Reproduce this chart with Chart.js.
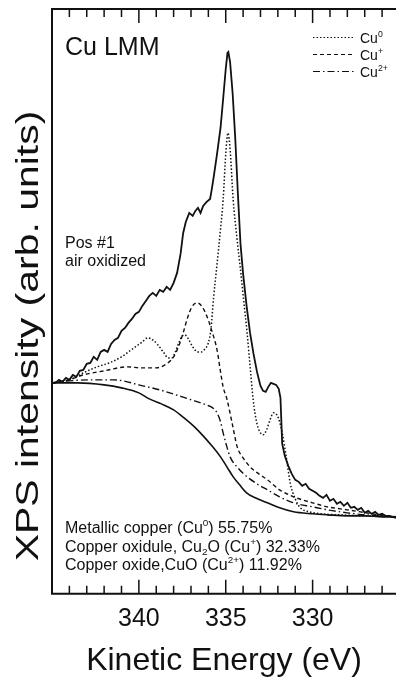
<!DOCTYPE html>
<html>
<head>
<meta charset="utf-8">
<script src="https://cdn.jsdelivr.net/npm/chart.js@4/dist/chart.umd.min.js"></script>
<style>
	html, body { margin: 0; padding: 0; background: #fff; overflow: hidden; }
	#wrap { position: relative; width: 396px; height: 680px; }
</style>
</head>
<body>
<div id="wrap"><canvas id="myChart"></canvas></div>
<script>
// 측정 스펙트럼 (운동에너지 eV, 강도 arb.)
const totalE = [345.0, 344.8, 344.6, 344.4, 344.2, 344.0, 343.8, 343.6, 343.4, 343.2, 343.0, 342.8, 342.6, 342.4, 342.2, 342.0, 341.8, 341.6, 341.4, 341.2, 341.0, 340.8, 340.6, 340.4, 340.2, 340.0, 339.8, 339.6, 339.4, 339.2, 339.0, 338.8, 338.6, 338.4, 338.2, 338.0, 337.8, 337.6,
	337.45, 337.3, 337.1, 336.9, 336.75, 336.6, 336.45, 336.3, 336.1, 335.9, 335.8, 335.7, 335.5, 335.3, 335.15, 335.0, 334.9, 334.85, 334.75, 334.6, 334.45, 334.3, 334.15, 334.0,
	333.8, 333.6, 333.4, 333.2, 333.0, 332.85, 332.7, 332.55, 332.4, 332.25, 332.1, 331.95, 331.85, 331.75, 331.6, 331.4, 331.2, 331.0,
	330.8, 330.6, 330.4, 330.2, 330.0, 329.8, 329.6, 329.4, 329.2, 329.0, 328.8, 328.6, 328.4, 328.2, 328.0, 327.8, 327.6, 327.4, 327.2, 327.0, 326.8, 326.6, 326.4, 326.2, 326.0, 325.8, 325.6, 325.4, 325.2];
const totalI = [211, 211, 214, 212, 216, 214, 219, 217, 223, 224, 230, 231, 237, 234, 242, 244, 242, 250, 254, 256, 263, 266, 271, 275, 280, 282, 288, 293, 298, 301, 298, 304, 302, 307, 304, 311, 321, 340,
	361, 372, 381, 378, 383, 386, 381, 388, 392, 395, 405, 416, 440, 466, 495, 525, 541, 542, 532, 500, 455, 400, 350, 320,
	288, 261, 240, 222, 208, 203, 202, 207, 211, 210, 209, 205, 196, 150, 138, 128, 120, 114,
	112, 108, 110, 105, 103, 101, 98, 96, 99, 93, 95, 90, 92, 88, 91, 86, 87, 84, 86, 81, 83, 80, 82, 79, 80, 78, 78, 77, 76];

// Cu0 성분
const cu0E = [345.0, 344.0, 343.2, 342.4, 341.7, 341.0, 340.6, 340.2, 339.8, 339.5, 339.2, 338.9, 338.6, 338.3, 338.1, 337.9, 337.7, 337.5, 337.35, 337.15, 336.9, 336.6, 336.4, 336.2, 336.0, 335.85, 335.7, 335.5, 335.3, 335.15,
	335.0, 334.87, 334.75, 334.57, 334.35, 334.17, 333.97, 333.77, 333.6, 333.42, 333.2, 333.0, 332.85, 332.65, 332.45, 332.25, 332.1, 331.95, 331.75, 331.5, 331.29, 331.0, 330.7, 330.2, 329.5, 328.5, 327.0, 325.2];
const cu0I = [211, 214, 221, 227, 231, 237, 242, 247, 252, 256, 254, 249, 242, 236, 236, 242, 251, 258, 259, 255, 247, 242, 242, 245, 251, 265, 296, 330, 365, 394,
	440, 461, 445, 394, 355, 327, 294, 261, 228, 194, 170, 161, 159, 164, 174, 181, 180, 175, 161, 135, 111, 95, 86, 82, 80, 79, 78, 77];

// Cu+ 성분
const cu1E = [345.0, 344.0, 343.2, 342.0, 340.7, 339.8, 339.0, 338.5, 338.0, 337.7, 337.45, 337.2, 336.95, 336.65, 336.35, 336.07, 335.8, 335.5, 335.3, 335.15,
	334.92, 334.6, 334.34, 334.0, 333.6, 333.1, 332.6, 331.9, 331.1, 330.0, 329.15, 328.0, 327.25, 326.2, 325.2];
const cu1I = [211, 214, 219, 223, 227, 226, 226, 229, 237, 248, 261, 276, 287, 291, 287, 277, 263, 244, 222, 207,
	194, 168, 147, 136, 127, 120, 114, 104, 97, 91, 87, 84, 82, 79, 77];

// Cu2+ 성분
const cu2E = [345.0, 344.0, 342.65, 341.5, 340.9, 340.0, 338.8, 337.5, 336.8, 336.13, 335.75, 335.5, 335.3, 335.15, 334.95, 334.75, 334.3, 333.77, 333.2, 332.6, 331.9, 331.1, 330.0, 329.15, 328.0, 327.0, 326.0, 325.2];
const cu2I = [211, 213, 214, 214, 213, 209, 204, 197, 193, 189, 186, 181, 172, 161, 148, 137, 126, 117, 110, 104, 97, 91, 87, 84, 81, 79, 78, 77];

// 배경 (Shirley)
const bgE = [345.0, 343.5, 342.0, 341.0, 340.0, 339.4, 338.7, 338.0, 337.4, 336.8, 336.3, 335.8, 335.3, 334.9, 334.57, 334.2, 333.8, 333.3, 332.6, 331.9, 331.1, 330.0, 329.15, 328.0, 327.0, 326.0, 325.2];
const bgI = [211, 211, 209, 206, 201, 195, 190, 184, 176, 167, 158, 148, 137, 126, 117, 109, 101, 96, 91, 86, 82, 80, 79, 78, 78, 77, 77];

const tickLabels = [340, 335, 330];
const legendNames = ['0', '+', '2+'];

const FONT = '"Liberation Sans", Arial, Helvetica, sans-serif';

function toPts(e, v) {
	return e.map((x, i) => ({ x: x, y: v[i] }));
}

// 위/아래 첨자 섞인 텍스트
function richText(ctx, parts, x, y, size) {
	for (const [t, k] of parts) {
		const s = k ? size * 0.62 : size;
		ctx.font = `${s}px ${FONT}`;
		const dy = k === 1 ? -size * 0.42 : (k === -1 ? size * 0.2 : 0);
		ctx.fillText(t, x, y + dy);
		x += ctx.measureText(t).width;
	}
}

// 테두리 + 안쪽 눈금
const framePlugin = {
	id: 'frame',
	afterDatasetsDraw(chart) {
		const { ctx, chartArea: a, scales: { x } } = chart;
		ctx.save();
		ctx.strokeStyle = '#111';
		ctx.lineWidth = 2;
		ctx.beginPath();
		ctx.moveTo(a.right + 4, a.top);
		ctx.lineTo(a.left, a.top);
		ctx.lineTo(a.left, a.bottom);
		ctx.lineTo(a.right + 4, a.bottom);
		ctx.stroke();
		ctx.lineWidth = 1.5;
		ctx.beginPath();
		for (let v = Math.ceil(x.min); v < x.max; v++) {
			const px = x.getPixelForValue(v);
			const len = v % 5 === 0 ? 14 : 8;
			ctx.moveTo(px, a.top);
			ctx.lineTo(px, a.top + len);
			ctx.moveTo(px, a.bottom);
			ctx.lineTo(px, a.bottom - len);
		}
		ctx.stroke();
		ctx.restore();
	}
};

// 주석, 범례, y축 제목
const notesPlugin = {
	id: 'notes',
	afterDraw(chart) {
		const ctx = chart.ctx;
		ctx.save();
		ctx.fillStyle = '#111';
		ctx.textBaseline = 'alphabetic';
		ctx.textAlign = 'left';

		ctx.font = `25px ${FONT}`;
		ctx.fillText('Cu LMM', 65, 55);

		ctx.font = `16px ${FONT}`;
		ctx.fillText('Pos #1', 65, 248);
		ctx.fillText('air oxidized', 65, 265.5);

		richText(ctx, [['Metallic copper (Cu', 0], ['0', 1], [') 55.75%', 0]], 65, 533, 16);
		richText(ctx, [['Copper oxidule, Cu', 0], ['2', -1], ['O (Cu', 0], ['+', 1], [') 32.33%', 0]], 65, 551.5, 16);
		richText(ctx, [['Copper oxide,CuO (Cu', 0], ['2+', 1], [') 11.92%', 0]], 65, 570, 16);

		// 범례
		const ds = chart.data.datasets;
		for (let i = 0; i < 3; i++) {
			const y = 37.5 + i * 17;
			ctx.save();
			ctx.strokeStyle = '#111';
			ctx.lineWidth = 1.2;
			ctx.setLineDash(ds[i + 1].borderDash);
			ctx.beginPath();
			ctx.moveTo(313, y);
			ctx.lineTo(355, y);
			ctx.stroke();
			ctx.restore();
			richText(ctx, [['Cu', 0], [legendNames[i], 1]], 360, y + 5.5, 14);
		}

		// y축 제목
		ctx.translate(29, 336);
		ctx.rotate(-Math.PI / 2);
		ctx.scale(1.28, 1);
		ctx.font = `32px ${FONT}`;
		ctx.textAlign = 'center';
		ctx.textBaseline = 'middle';
		ctx.fillText('XPS intensity (arb. units)', 0, 0);
		ctx.restore();
	}
};

window.addEventListener("load", function() {
	Chart.defaults.font.family = FONT;
	Chart.defaults.color = '#111';

	let data = {
		datasets: [
			{
				label: 'total',
				data: toPts(totalE, totalI),
				borderColor: '#111',
				borderWidth: 1.8,
				tension: 0
			},
			{
				label: 'Cu0',
				data: toPts(cu0E, cu0I),
				borderColor: '#111',
				borderWidth: 1.5,
				borderDash: [1.5, 2],
				cubicInterpolationMode: 'monotone'
			},
			{
				label: 'Cu+',
				data: toPts(cu1E, cu1I),
				borderColor: '#111',
				borderWidth: 1.4,
				borderDash: [4, 3],
				cubicInterpolationMode: 'monotone'
			},
			{
				label: 'Cu2+',
				data: toPts(cu2E, cu2I),
				borderColor: '#111',
				borderWidth: 1.4,
				borderDash: [7, 3, 1.5, 3],
				cubicInterpolationMode: 'monotone'
			},
			{
				label: 'background',
				data: toPts(bgE, bgI),
				borderColor: '#111',
				borderWidth: 1.6,
				cubicInterpolationMode: 'monotone'
			}
		]
	};

	let options = {
		responsive: true,
		maintainAspectRatio: false,
		animation: false,
		layout: { padding: { left: 52, top: 9, right: 0, bottom: 0 } },
		elements: { point: { radius: 0 } },
		plugins: { legend: { display: false }, tooltip: { enabled: false } },
		scales: {
			x: {
				type: 'linear',
				reverse: true,
				min: 325.2,
				max: 345,
				afterBuildTicks: function(axis) {
					axis.ticks = tickLabels.map(v => ({ value: v }));
				},
				grid: { display: false, drawTicks: false },
				border: { display: false },
				ticks: { font: { size: 25 }, color: '#111', padding: 10.6, maxRotation: 0, autoSkip: false },
				title: {
					display: true,
					text: 'Kinetic Energy (eV)',
					color: '#111',
					font: { size: 32, lineHeight: 1 },
					padding: { top: 0, bottom: 3 }
				}
			},
			y: {
				display: false,
				min: 0,
				max: 585
			}
		}
	};

	const ctx = document.getElementById('myChart').getContext('2d');

	let myChart = new Chart(ctx, {
		type: 'line',
		data: data,
		options: options,
		plugins: [framePlugin, notesPlugin]
	});
})
</script>
</body>
</html>
